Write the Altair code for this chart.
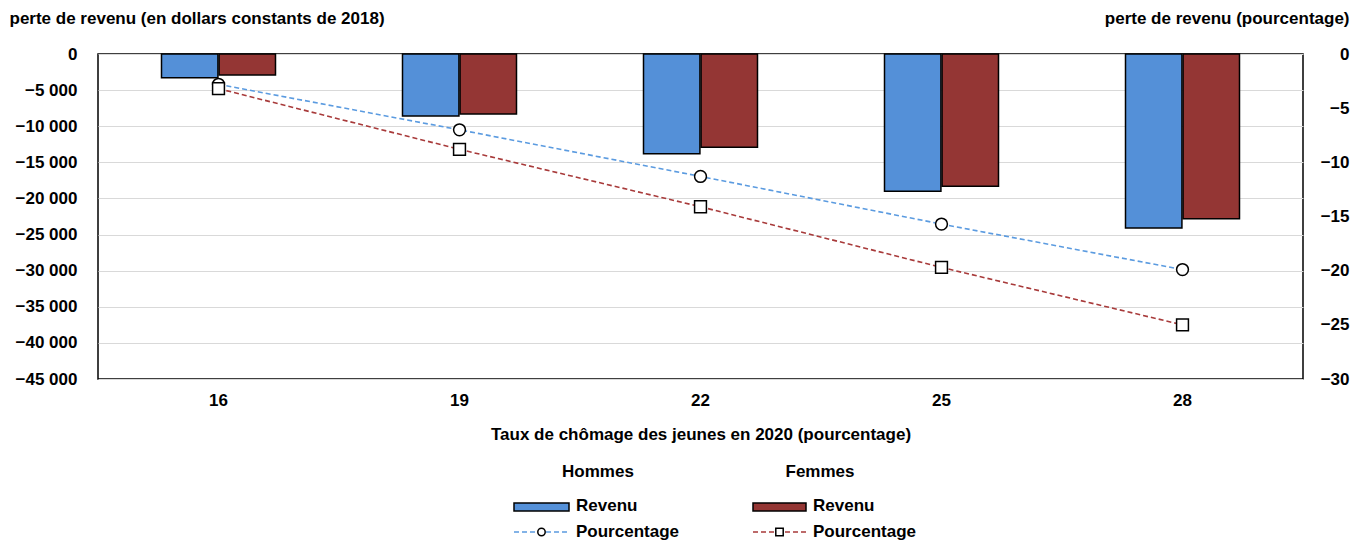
import altair as alt
import pandas as pd

# ---- data ----
categories = ["16", "19", "22", "25", "28"]
hommes_revenu = [-3300, -8600, -13800, -19000, -24100]
femmes_revenu = [-2900, -8300, -12900, -18300, -22800]
hommes_pct = [-2.8, -7.0, -11.3, -15.7, -19.9]
femmes_pct = [-3.2, -8.8, -14.1, -19.7, -25.0]

left_ticks = list(range(-45000, 1, 5000))
right_ticks = list(range(-30, 1, 5))

groups = ["Hommes", "Femmes"]
bar_colors = ["#5490D8", "#943634"]
line_colors = ["#5B9BE0", "#A83A3A"]
shapes = ["circle", "square"]

FONT = "Liberation Sans"
FS = 17

rows = []
for i, c in enumerate(categories):
    rows.append({"cat": c, "grp": "Hommes", "rev": hommes_revenu[i], "pct": hommes_pct[i]})
    rows.append({"cat": c, "grp": "Femmes", "rev": femmes_revenu[i], "pct": femmes_pct[i]})
df = pd.DataFrame(rows)

x_enc = alt.X(
    "cat:N",
    sort=categories,
    scale=alt.Scale(paddingInner=0.527, paddingOuter=0.2635),
    axis=alt.Axis(
        title="Taux de chômage des jeunes en 2020 (pourcentage)",
        labelAngle=0, ticks=False, domain=False, labelPadding=13,
        titlePadding=18, labelFontSize=FS, titleFontSize=FS,
        labelFontWeight="bold", titleFontWeight="bold",
    ),
)

bars = alt.Chart(df).mark_bar(stroke="black", strokeWidth=1.5).encode(
    x=x_enc,
    xOffset=alt.XOffset("grp:N", sort=groups, scale=alt.Scale(paddingInner=0.02)),
    y=alt.Y(
        "rev:Q",
        scale=alt.Scale(domain=[-45000, 0], nice=False, zero=False),
        axis=alt.Axis(
            values=left_ticks, ticks=False, domain=False, grid=True,
            gridColor="#d9d9d9", gridWidth=1.2, labelPadding=21,
            labelExpr="replace(format(datum.value, ',d'), ',', ' ')",
            title="perte de revenu (en dollars constants de 2018)",
            titleAngle=0, titleAlign="left", titleBaseline="middle",
            titleX=-89, titleY=-36, labelFontSize=FS, titleFontSize=FS,
            labelFontWeight="bold", titleFontWeight="bold",
        ),
    ),
    color=alt.Color("grp:N", scale=alt.Scale(domain=groups, range=bar_colors), legend=None),
)

y2 = alt.Y(
    "pct:Q",
    scale=alt.Scale(domain=[-30, 0], nice=False, zero=False),
    axis=alt.Axis(
        orient="right", values=right_ticks, ticks=False, domain=False, grid=False,
        labelAlign="right", labelPadding=46,
        title="perte de revenu (pourcentage)",
        titleAngle=0, titleAlign="right", titleBaseline="middle",
        titleX=46, titleY=-36, labelFontSize=FS, titleFontSize=FS,
        labelFontWeight="bold", titleFontWeight="bold",
    ),
)

lines = alt.Chart(df).mark_line(strokeDash=[5, 3], strokeWidth=1.6).encode(
    x=alt.X("cat:N", sort=categories),
    y=y2,
    detail="grp:N",
    color=alt.Color("grp:N", scale=alt.Scale(domain=groups, range=line_colors), legend=None),
)

points = alt.Chart(df).mark_point(filled=True, fill="white", stroke="black", strokeWidth=1.5, size=140, opacity=1).encode(
    x=alt.X("cat:N", sort=categories),
    y=y2,
    shape=alt.Shape("grp:N", scale=alt.Scale(domain=groups, range=shapes), legend=None),
)

main = alt.layer(bars, alt.layer(lines, points)).resolve_scale(
    y="independent", color="independent"
).properties(width=1205, height=325)

# ---- hand-built legend panel ----
leg_x_heading = [500, 722]
leg_x_swatch0 = [416, 655]
leg_x_swatch1 = [471, 708]
leg_x_text = [478, 715]

heads = pd.DataFrame({"x": leg_x_heading, "y": [12, 12], "t": groups})
sw = pd.DataFrame({
    "x0": leg_x_swatch0, "x1": leg_x_swatch1,
    "xm": [(a + b) / 2 for a, b in zip(leg_x_swatch0, leg_x_swatch1)],
    "yb0": [43, 43], "yb1": [51, 51], "yl": [72, 72],
    "grp": groups,
})
labels = pd.DataFrame({
    "x": leg_x_text * 2, "y": [46, 46, 72, 72],
    "t": ["Revenu", "Revenu", "Pourcentage", "Pourcentage"],
})

lx = alt.Scale(domain=[0, 1205], nice=False, zero=False)
ly = alt.Scale(domain=[80, 0], nice=False, zero=False)

h = alt.Chart(heads).mark_text(font=FONT, fontSize=FS, fontWeight="bold", align="center", baseline="middle").encode(
    x=alt.X("x:Q", scale=lx, axis=None), y=alt.Y("y:Q", scale=ly, axis=None), text="t:N")
r = alt.Chart(sw).mark_rect(stroke="black", strokeWidth=1.5).encode(
    x=alt.X("x0:Q", scale=lx, axis=None), x2="x1:Q",
    y=alt.Y("yb0:Q", scale=ly, axis=None), y2="yb1:Q",
    color=alt.Color("grp:N", scale=alt.Scale(domain=groups, range=bar_colors), legend=None))
ln = alt.Chart(sw).mark_rule(strokeDash=[5, 3], strokeWidth=1.6).encode(
    x=alt.X("x0:Q", scale=lx, axis=None), x2="x1:Q",
    y=alt.Y("yl:Q", scale=ly, axis=None),
    color=alt.Color("grp:N", scale=alt.Scale(domain=groups, range=line_colors), legend=None))
pt = alt.Chart(sw).mark_point(filled=True, fill="white", stroke="black", strokeWidth=1.5, size=55, opacity=1).encode(
    x=alt.X("xm:Q", scale=lx, axis=None), y=alt.Y("yl:Q", scale=ly, axis=None),
    shape=alt.Shape("grp:N", scale=alt.Scale(domain=groups, range=shapes), legend=None))
tx = alt.Chart(labels).mark_text(font=FONT, fontSize=FS, fontWeight="bold", align="left", baseline="middle").encode(
    x=alt.X("x:Q", scale=lx, axis=None), y=alt.Y("y:Q", scale=ly, axis=None), text="t:N")

legend = alt.layer(h, r, ln, pt, tx).resolve_scale(color="independent").properties(
    width=1205, height=80, view=alt.ViewConfig(stroke="transparent"))

chart = alt.vconcat(main, legend, spacing=16).resolve_scale(
    x="independent", y="independent", color="independent", shape="independent"
).properties(padding=0).configure(font=FONT).configure_view(stroke="black", strokeWidth=1.5).configure_axis(
    labelColor="black", titleColor="black", labelFont=FONT, titleFont=FONT)

chart.save("out.html", embed_options={"renderer": "svg", "actions": False})
